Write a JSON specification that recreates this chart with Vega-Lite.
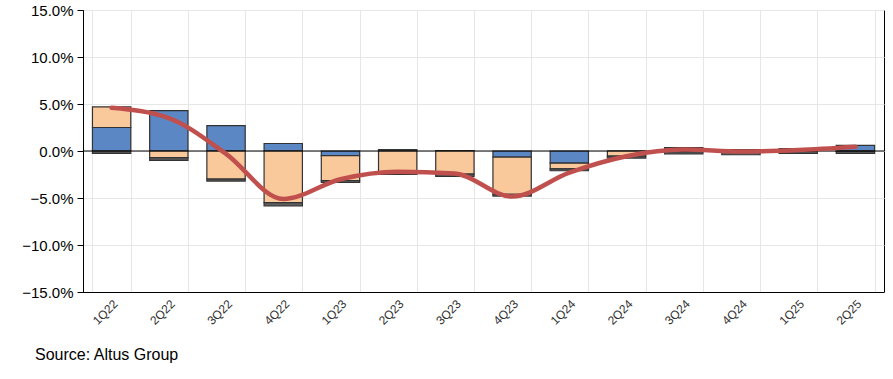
{
  "$schema": "https://vega.github.io/schema/vega-lite/v6.json",
  "autosize": "none",
  "width": 801,
  "height": 282,
  "padding": {"left": 83, "top": 10, "right": 9, "bottom": 87},
  "background": "white",
  "config": {
    "view": {"stroke": "#000000", "strokeWidth": 1},
    "font": "Liberation Sans"
  },
  "title": {
    "text": "Source: Altus Group",
    "orient": "bottom",
    "anchor": "start",
    "frame": "group",
    "dx": -48,
    "offset": 20,
    "fontSize": 16,
    "fontWeight": "normal",
    "color": "#000000",
    "font": "Liberation Sans"
  },
  "datasets": {
    "bars": [
      {"q": "1Q22", "part": "A", "v": 2.5}, {"q": "1Q22", "part": "B", "v": 2.2}, {"q": "1Q22", "part": "C", "v": -0.25},
      {"q": "2Q22", "part": "A", "v": 4.3}, {"q": "2Q22", "part": "B", "v": -0.7}, {"q": "2Q22", "part": "C", "v": -0.3},
      {"q": "3Q22", "part": "A", "v": 2.7}, {"q": "3Q22", "part": "B", "v": -3.0}, {"q": "3Q22", "part": "C", "v": -0.2},
      {"q": "4Q22", "part": "A", "v": 0.8}, {"q": "4Q22", "part": "B", "v": -5.5}, {"q": "4Q22", "part": "C", "v": -0.35},
      {"q": "1Q23", "part": "A", "v": -0.5}, {"q": "1Q23", "part": "B", "v": -2.65}, {"q": "1Q23", "part": "C", "v": -0.2},
      {"q": "2Q23", "part": "A", "v": 0.15}, {"q": "2Q23", "part": "B", "v": -2.3}, {"q": "2Q23", "part": "C", "v": -0.2},
      {"q": "3Q23", "part": "A", "v": 0.05}, {"q": "3Q23", "part": "B", "v": -2.45}, {"q": "3Q23", "part": "C", "v": -0.25},
      {"q": "4Q23", "part": "A", "v": -0.65}, {"q": "4Q23", "part": "B", "v": -3.95}, {"q": "4Q23", "part": "C", "v": -0.2},
      {"q": "1Q24", "part": "A", "v": -1.3}, {"q": "1Q24", "part": "B", "v": -0.6}, {"q": "1Q24", "part": "C", "v": -0.2},
      {"q": "2Q24", "part": "A", "v": 0.0}, {"q": "2Q24", "part": "B", "v": -0.55}, {"q": "2Q24", "part": "C", "v": -0.2},
      {"q": "3Q24", "part": "A", "v": 0.35}, {"q": "3Q24", "part": "B", "v": -0.1}, {"q": "3Q24", "part": "C", "v": -0.2},
      {"q": "4Q24", "part": "A", "v": 0.15}, {"q": "4Q24", "part": "B", "v": -0.15}, {"q": "4Q24", "part": "C", "v": -0.25},
      {"q": "1Q25", "part": "A", "v": 0.25}, {"q": "1Q25", "part": "B", "v": -0.05}, {"q": "1Q25", "part": "C", "v": -0.2},
      {"q": "2Q25", "part": "A", "v": 0.6}, {"q": "2Q25", "part": "B", "v": -0.05}, {"q": "2Q25", "part": "C", "v": -0.2}
    ],
    "line": [
      {"q": "1Q22", "v": 4.6}, {"q": "2Q22", "v": 3.5}, {"q": "3Q22", "v": -0.3}, {"q": "4Q22", "v": -5.1},
      {"q": "1Q23", "v": -3.0}, {"q": "2Q23", "v": -2.2}, {"q": "3Q23", "v": -2.4}, {"q": "4Q23", "v": -4.85},
      {"q": "1Q24", "v": -2.3}, {"q": "2Q24", "v": -0.55}, {"q": "3Q24", "v": 0.15}, {"q": "4Q24", "v": -0.05},
      {"q": "1Q25", "v": 0.1}, {"q": "2Q25", "v": 0.45}
    ],
    "zero": [{"v": 0}]
  },
  "encoding": {
    "x": {
      "field": "q",
      "type": "nominal",
      "sort": null,
      "scale": {"paddingInner": 0.33, "paddingOuter": 0.165},
      "axis": {
        "title": null,
        "labelAngle": -45,
        "labelAlign": "right",
        "labelBaseline": "top",
        "labelFontSize": 12,
        "labelColor": "#333333",
        "labelFont": "Liberation Sans",
        "labelPadding": 6,
        "ticks": false,
        "tickBand": "extent",
        "grid": true,
        "gridColor": "#e6e6e6",
        "domainColor": "#000000"
      }
    }
  },
  "layer": [
    {
      "data": {"name": "bars"},
      "mark": {"type": "bar", "stroke": "#333333", "strokeWidth": 1.2},
      "encoding": {
        "y": {
          "field": "v",
          "type": "quantitative",
          "stack": "zero",
          "scale": {"domain": [-15, 15], "nice": false},
          "axis": {
            "title": null,
            "values": [-15, -10, -5, 0, 5, 10, 15],
            "labelExpr": "format(datum.value, '.1f') + '%'",
            "labelFontSize": 15,
            "labelColor": "#000000",
            "labelFont": "Liberation Sans",
            "labelPadding": 4,
            "tickColor": "#000000",
            "tickSize": 6,
            "domainColor": "#000000",
            "gridColor": "#e6e6e6"
          }
        },
        "color": {
          "field": "part",
          "type": "nominal",
          "scale": {"domain": ["A", "B", "C"], "range": ["#5B87C5", "#F9C89B", "#5E5E5E"]},
          "legend": null
        },
        "order": {"field": "part", "sort": "ascending"}
      }
    },
    {
      "data": {"name": "zero"},
      "mark": {"type": "rule", "color": "#000000", "strokeWidth": 1.2},
      "encoding": {"y": {"field": "v", "type": "quantitative"}, "x": null}
    },
    {
      "data": {"name": "line"},
      "mark": {"type": "line", "color": "#C0504D", "strokeWidth": 4.5, "interpolate": "monotone", "strokeCap": "round"},
      "encoding": {"y": {"field": "v", "type": "quantitative"}}
    }
  ]
}
